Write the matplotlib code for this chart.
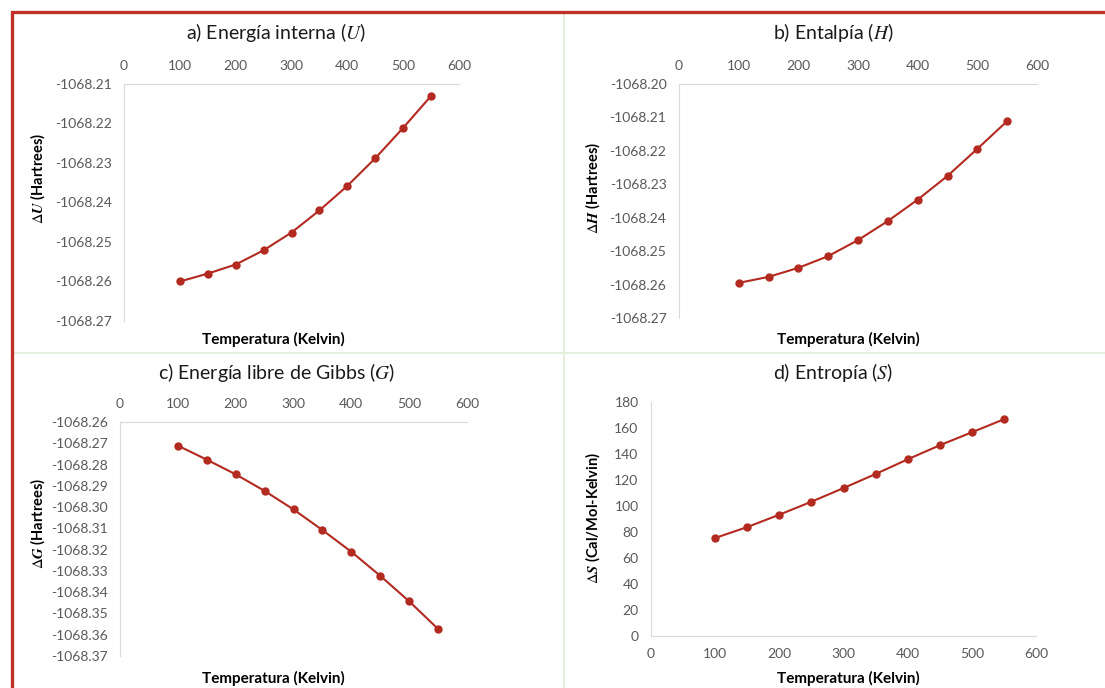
import matplotlib.pyplot as plt
from matplotlib.lines import Line2D
from matplotlib.ticker import FuncFormatter, MultipleLocator

# Temperature grid (K)
temps = [100, 150, 200, 250, 300, 350, 400, 450, 500, 550]

# Thermodynamic quantities (Hartrees, except entropy)
energy_u = [-1068.2600, -1068.2580, -1068.2557, -1068.2521, -1068.2476,
            -1068.2420, -1068.2358, -1068.2288, -1068.2211, -1068.2130]
enthalpy_h = [-1068.2595, -1068.2577, -1068.2550, -1068.2515, -1068.2467,
              -1068.2410, -1068.2346, -1068.2275, -1068.2194, -1068.2111]
gibbs_g = [-1068.2711, -1068.2777, -1068.2846, -1068.2924, -1068.3011,
           -1068.3108, -1068.3210, -1068.3323, -1068.3443, -1068.3573]
entropy_s = [75.4, 83.8, 93.3, 103.3, 113.8, 124.6, 135.9, 146.7, 156.7, 166.7]

W, H = 1105, 688
LINE = "#B22A20"
TXT = "#595959"
AXC = "#D9D9D9"

plt.rcParams["font.family"] = ["Lato", "DejaVu Sans"]
plt.rcParams["mathtext.fontset"] = "stix"

fig = plt.figure(figsize=(W / 100, H / 100), dpi=100)


def px_axes(left, top, right, bottom):
    return fig.add_axes([left / W, 1 - bottom / H, (right - left) / W, (bottom - top) / H])


def style(ax, top_axis):
    for s in ax.spines.values():
        s.set_visible(False)
    ax.spines["left"].set_visible(True)
    ax.spines["left"].set_color(AXC)
    if top_axis:
        ax.spines["top"].set_visible(True)
        ax.spines["top"].set_color(AXC)
        ax.xaxis.tick_top()
    else:
        ax.spines["bottom"].set_visible(True)
        ax.spines["bottom"].set_color(AXC)
    ax.tick_params(length=0, colors=TXT, labelsize=10, pad=9)
    ax.set_xlim(0, 600)
    ax.xaxis.set_major_locator(MultipleLocator(100))


def plot_series(ax, y):
    ax.plot(temps, y, color=LINE, lw=1.5, marker="o", ms=5)


fmt2 = FuncFormatter(lambda v, p: f"{v:.2f}".replace("\u2212", "-"))

# a) internal energy
ax_a = px_axes(124, 84, 459, 321)
plot_series(ax_a, energy_u)
style(ax_a, True)
ax_a.set_ylim(-1068.27, -1068.21)
ax_a.yaxis.set_major_locator(MultipleLocator(0.01))
ax_a.yaxis.set_major_formatter(fmt2)

# b) enthalpy
ax_b = px_axes(679, 84, 1037, 318)
plot_series(ax_b, enthalpy_h)
style(ax_b, True)
ax_b.set_ylim(-1068.27, -1068.20)
ax_b.yaxis.set_major_locator(MultipleLocator(0.01))
ax_b.yaxis.set_major_formatter(fmt2)

# c) Gibbs free energy
ax_c = px_axes(120, 422, 467, 656)
plot_series(ax_c, gibbs_g)
style(ax_c, True)
ax_c.set_ylim(-1068.37, -1068.26)
ax_c.yaxis.set_major_locator(MultipleLocator(0.01))
ax_c.yaxis.set_major_formatter(fmt2)

# d) entropy
ax_d = px_axes(651, 402, 1036, 636)
plot_series(ax_d, entropy_s)
style(ax_d, False)
ax_d.set_ylim(0, 180)
ax_d.yaxis.set_major_locator(MultipleLocator(20))

titles = [
    (276, 32, r"a) Energía interna ($U$)"),
    (833, 32, r"b) Entalpía ($H$)"),
    (277, 373, r"c) Energía libre de Gibbs ($G$)"),
    (833, 373, r"d) Entropía ($S$)"),
]
for x, y, t in titles:
    fig.text(x / W, 1 - y / H, t, ha="center", va="center", fontsize=14, color="#1a1a1a")

xlabels = [(273, 339), (848, 339), (273, 678), (848, 678)]
for x, y in xlabels:
    fig.text(x / W, 1 - y / H, "Temperatura (Kelvin)", ha="center", va="center",
             fontsize=11, fontweight="bold", color="black")

ylabels = [
    (38, 178, r"$\Delta\mathbfit{U}$ (Hartrees)"),
    (593, 188, r"$\Delta\mathbfit{H}$ (Hartrees)"),
    (38, 523, r"$\Delta\mathbfit{G}$ (Hartrees)"),
    (593, 518, r"$\Delta\mathbfit{S}$ (Cal/Mol-Kelvin)"),
]
for x, y, t in ylabels:
    fig.text(x / W, 1 - y / H, t, ha="center", va="center", rotation=90,
             fontsize=10.5, fontweight="bold", color="black")

# panel separators
sep = "#E2EFD9"
fig.add_artist(Line2D([13 / W, 1], [1 - 353 / H] * 2, color=sep, lw=1.3))
fig.add_artist(Line2D([564 / W] * 2, [1 - 13 / H, 0], color=sep, lw=1.3))

# outer frame, left and top edges
fig.add_artist(Line2D([11.5 / W, 11.5 / W, 1], [0, 1 - 11.5 / H, 1 - 11.5 / H],
                      color="#C0302A", lw=2.4, solid_joinstyle="miter"))

fig.savefig("out.png", dpi=100)
